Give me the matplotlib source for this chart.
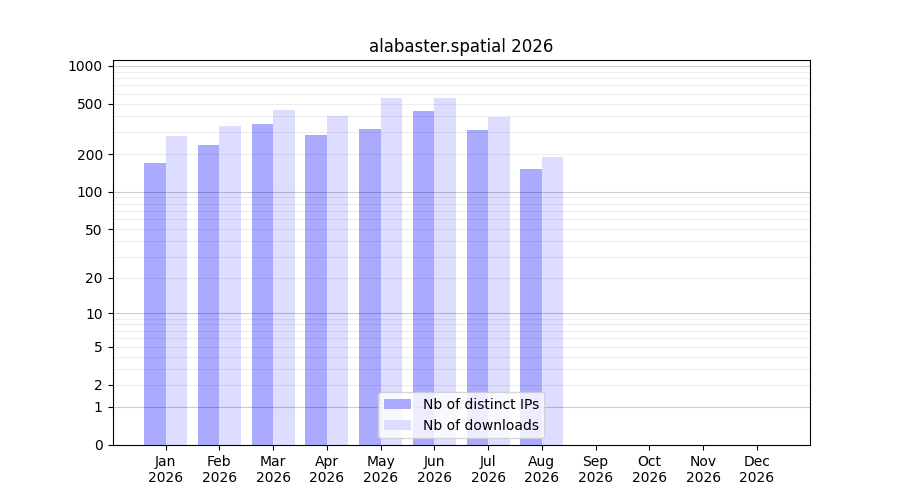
import numpy as np
import matplotlib
matplotlib.use('Agg')
import matplotlib.pyplot as plt

TITLE = 'alabaster.spatial 2026'

months = ['Jan', 'Feb', 'Mar', 'Apr', 'May', 'Jun',
          'Jul', 'Aug', 'Sep', 'Oct', 'Nov', 'Dec']
year = '2026'

distinct_ips = [169, 236, 346, 283, 315, 439, 310, 151, 0, 0, 0, 0]
downloads = [277, 333, 447, 400, 557, 557, 393, 189, 0, 0, 0, 0]

tick_values = [0, 1, 2, 5, 10, 20, 50, 100, 200, 500, 1000]

# -------------------------------------------------


def fwd(x):
    return np.log10(1 + np.clip(x, 0, None))


def inv(y):
    return 10 ** y - 1


if __name__ == '__main__':
    fig, ax = plt.subplots(figsize=(9, 5), dpi=100)

    x = np.arange(len(months))
    ax.bar(x, distinct_ips, width=-0.4, align='edge', color='#aaaaff',
           label='Nb of distinct IPs', zorder=1)
    ax.bar(x, downloads, width=0.4, align='edge', color='#ddddff',
           label='Nb of downloads', zorder=1)

    ax.set_yscale('function', functions=(fwd, inv))
    ax.set_ylim(0, 2 * max(downloads))
    ax.set_yticks(tick_values)
    ax.set_yticklabels([str(v) for v in tick_values])
    ax.minorticks_off()

    # grid lines: decades darker, the rest light
    for dec in [1, 10, 100, 1000]:
        ax.axhline(dec, color='k', alpha=0.2, lw=0.8, zorder=2)
        for m in range(2, 10):
            ax.axhline(dec * m, color='k', alpha=0.07, lw=0.8, zorder=2)

    ax.set_xticks(x)
    ax.set_xticklabels([m + '\n' + year for m in months])
    ax.set_title(TITLE)
    ax.legend(loc='lower center')

    fig.savefig('out.png')
